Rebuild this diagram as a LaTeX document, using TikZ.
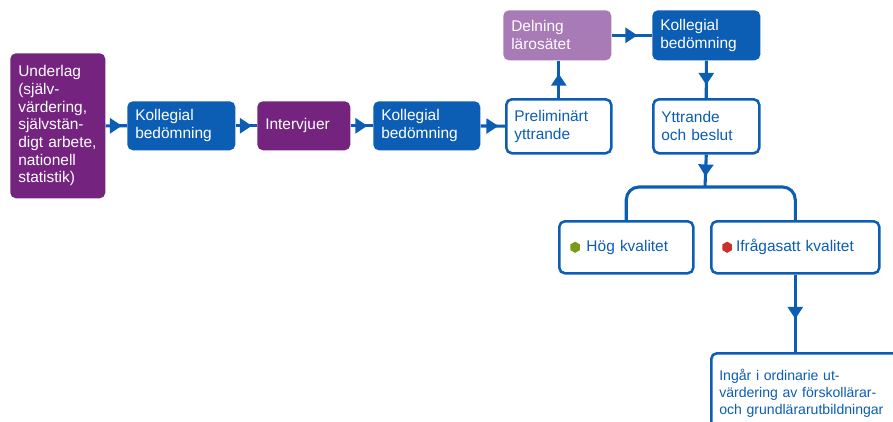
\documentclass[tikz,border=0pt]{standalone}
\usepackage{fontspec}
\setmainfont{Liberation Sans}
\usetikzlibrary{arrows.meta,decorations.markings,shapes.geometric,positioning}

\definecolor{flowblue}{RGB}{12,93,180}
\definecolor{flowpurple}{RGB}{116,36,127}
\definecolor{flowlilac}{RGB}{168,123,182}
\definecolor{hexgreen}{RGB}{122,154,26}
\definecolor{hexred}{RGB}{200,50,42}

\tikzset{
  box/.style={anchor=north west, rounded corners=4pt, align=left, inner xsep=0.2cm, inner ysep=0pt,
    font=\fontsize{11}{12.6}\selectfont},
  bluebox/.style={box, fill=flowblue, text=white},
  purplebox/.style={box, fill=flowpurple, text=white},
  lilacbox/.style={box, fill=flowlilac, text=white},
  openbox/.style={box, draw=flowblue, line width=1.8pt, fill=white, text=flowblue},
  flow/.style={draw=flowblue, line width=2.2pt, postaction={decorate},
    decoration={markings, mark=at position 0.5 with {\pgftransformxshift{4pt}\arrow{Triangle[width=10.5pt,length=8.5pt]}}}},
  branch/.style={draw=flowblue, line width=2.2pt, rounded corners=9pt},
  hexmark/.style={regular polygon, regular polygon sides=6, shape border rotate=30,
    minimum size=0.28cm, inner sep=0pt}
}

\begin{document}
\begin{tikzpicture}[x=0.025cm, y=-0.025cm]

        % Frame
        \useasboundingbox (0,0) rectangle (893,421);
        \clip (0,0) rectangle (893,421);

        % Boxes of the first row
        \node[purplebox, minimum width=2.375cm, minimum height=3.625cm, text width=1.975cm] (underlag) at (10,53)
          {Underlag\\(själv-\\värdering,\\självstän-\\digt arbete,\\nationell\\statistik)};
        \node[bluebox, minimum width=2.7cm, minimum height=1.225cm, text width=2.3cm] (koll1) at (127,101)
          {Kollegial\\bedömning};
        \node[purplebox, minimum width=2.325cm, minimum height=1.225cm, text width=1.925cm] (intervju) at (257,101)
          {Intervjuer};
        \node[bluebox, minimum width=2.675cm, minimum height=1.225cm, text width=2.275cm] (koll2) at (373,101)
          {Kollegial\\bedömning};
        \node[openbox, minimum width=2.625cm, minimum height=1.35cm, text width=2.225cm] (prelim) at (505,98)
          {Preliminärt\\yttrande};
        \node[openbox, minimum width=2.65cm, minimum height=1.35cm, text width=2.25cm] (yttrande) at (652,98)
          {Yttrande\\och beslut};

        % Top row
        \node[lilacbox, minimum width=2.7cm, minimum height=1.25cm, text width=2.3cm] (delning) at (503,10)
          {Delning\\lärosätet};
        \node[bluebox, minimum width=2.7cm, minimum height=1.25cm, text width=2.3cm] (koll3) at (652,10)
          {Kollegial\\bedömning};

        % Outcome boxes
        \node[openbox, minimum width=3.35cm, minimum height=1.3cm, text width=2.95cm] (hog) at (558,220)
          {\hspace*{0.48cm}Hög kvalitet};
        \node[openbox, minimum width=4.2cm, minimum height=1.3cm, text width=3.8cm] (ifraga) at (710,220)
          {\hspace*{0.42cm}Ifrågasatt kvalitet};
        \node[openbox, minimum width=5.2cm, text width=4.8cm, inner ysep=11pt, text depth=1.5cm,
          font=\fontsize{10}{12.4}\selectfont] (ingar) at (710,352)
          {Ingår i ordinarie ut-\\värdering av förskollärar-\\och grundlärarutbildningar};

        % Markers
        \node[hexmark, fill=hexgreen, right=0.3cm of hog.west] (hoghex) {};
        \node[hexmark, fill=hexred, right=0.3cm of ifraga.west] (ifragahex) {};

        % Connectors
        \draw[flow] (underlag) -- (koll1);
        \draw[flow] (koll1) -- (intervju);
        \draw[flow] (intervju) -- (koll2);
        \draw[flow] (koll2) -- (prelim);
        \draw[flow] (prelim.north) -- (prelim.north |- delning.south);
        \draw[flow] (delning) -- (koll3);
        \draw[flow] (koll3) -- (yttrande);

        % Split into the two outcomes
        \coordinate (split) at (705,187);
        \draw[flow] (yttrande.south) -- (split);
        \draw[branch] (hog.north) |- (split) -| (ifraga.north);
        \draw[flow] (ifraga.south) -- (ifraga.south |- ingar.north);

\end{tikzpicture}
\end{document}
